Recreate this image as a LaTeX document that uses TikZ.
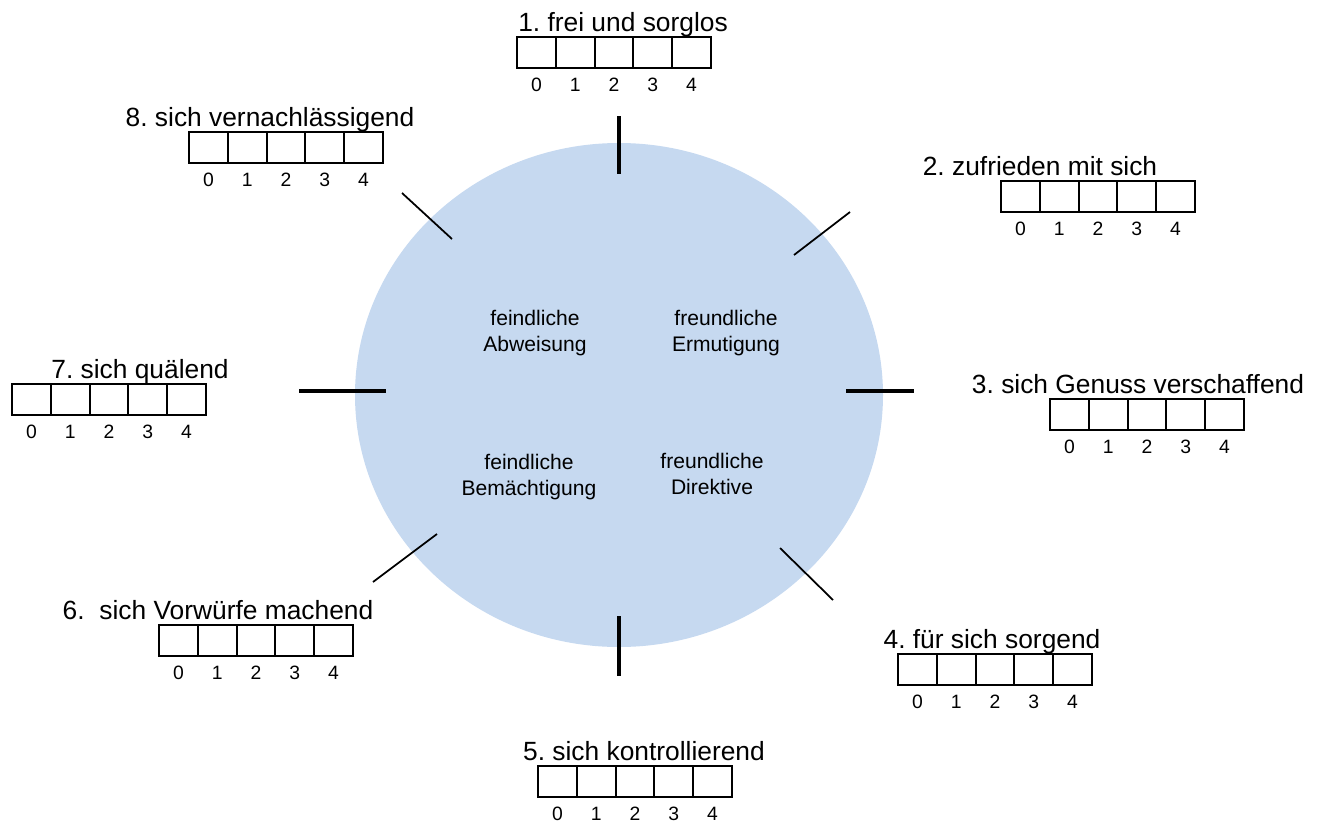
\documentclass[tikz,border=0pt]{standalone}
\usepackage{fontspec}
\setmainfont{Liberation Sans}
\frenchspacing
\definecolor{discblue}{RGB}{198,217,240}

\begin{document}
\begin{tikzpicture}
  [
    x=0.02cm, y=-0.02cm,
    title/.style    = {anchor=base, inner sep=0pt, font=\fontsize{15}{18}\selectfont},
    digit/.style    = {anchor=base, inner sep=0pt, font=\fontsize{11}{13}\selectfont},
    quadrant/.style = {align=center, inner sep=0pt, font=\fontsize{12}{14.8}\selectfont},
    cell/.style     = {line width=1.2pt},
    axis/.style     = {line width=1.9pt},
    diag/.style     = {line width=1pt},
  ]

\useasboundingbox (0,0) rectangle (1326,825);

%Width and height of one rating cell
\def \cw{38.8}
\def \ch{31}

%The disc
\fill[discblue] (619,395) ellipse [x radius=264, y radius=252];

%Ticks on the disc
\draw[axis] (619,116) -- (619,174);
\draw[axis] (619,616) -- (619,676);
\draw[axis] (299,391) -- (386,391);
\draw[axis] (846,391) -- (914,391);
\draw[diag] (402,193) -- (452,239);
\draw[diag] (850,212) -- (794,255);
\draw[diag] (373,582) -- (437,534);
\draw[diag] (780,548) -- (833,600);

%Quadrant labels
\node[quadrant] (abweisung)   at (535,333) {feindliche\\Abweisung};
\node[quadrant] (ermutigung)  at (726,333) {freundliche\\Ermutigung};
\node[quadrant] (bemaechtig)  at (529,477) {feindliche\\Bemächtigung};
\node[quadrant] (direktive)   at (712,474) {freundliche\\Direktive};

%Rating scales: number / box left / box top / title centre / title
\foreach \n/\bx/\by/\tx/\txt in {
    1/517/37/623/{1. frei und sorglos},
    2/1001/181/1040/{2. zufrieden mit sich},
    3/1050/399/1138/{3. sich Genuss verschaffend},
    4/898/654/992/{4. für sich sorgend},
    5/538/766/644/{5. sich kontrollierend},
    6/159/625/218/{6.~ sich Vorwürfe machend},
    7/12/384/140/{7. sich quälend},
    8/189/132/270/{8. sich vernachlässigend}}
{
\node[title] (t\n) at (\tx,\by-6) {\txt};
\foreach \i in {0,...,4}
{
\draw[cell] (\bx+\i*\cw,\by) rectangle +(\cw,\ch);
\node[digit] (d\n-\i) at (\bx+\i*\cw+0.5*\cw,\by+\ch+23) {\i};
}
}
\end{tikzpicture}
\end{document}
